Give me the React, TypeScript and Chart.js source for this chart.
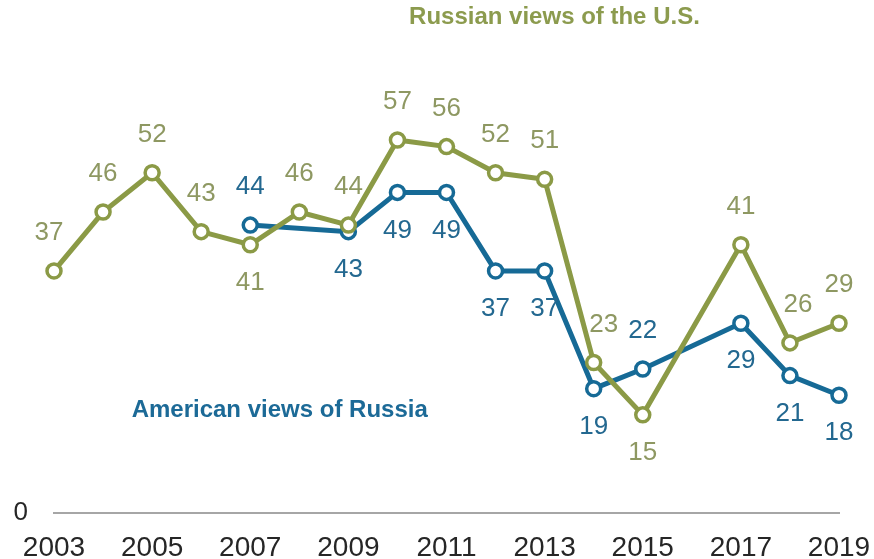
import React, { useEffect, useRef } from "react";
import { Chart, registerables } from "chart.js";

Chart.register(...registerables);

const years = [2003, 2004, 2005, 2006, 2007, 2008, 2009, 2010, 2011, 2012, 2013, 2014, 2015, 2016, 2017, 2018, 2019];
const russianViews = [37, 46, 52, 43, 41, 46, 44, 57, 56, 52, 51, 23, 15, null, 41, 26, 29];
const americanViews = [null, null, null, null, 44, null, 43, 49, 49, 37, 37, 19, 22, null, 29, 21, 18];
const russianLabelSide = ["up", "up", "up", "up", "down", "up", "up", "up", "up", "up", "up", "up", "down", null, "up", "up", "up"];
const americanLabelSide = [null, null, null, null, "up", null, "down", "down", "down", "down", "down", "down", "up", null, "down", "down", "down"];
const russianLabelShift = [-5, 0, 0, 0, 0, 0, 0, 0, 0, 0, 0, 10, 0, 0, 0, 8, 0];
const americanLabelShift = [0, 0, 0, 0, 0, 0, 0, 0, 0, 0, 0, 0, 0, 0, 0, 0, 0];
const xTickYears = [2003, 2005, 2007, 2009, 2011, 2013, 2015, 2017, 2019];
const russianTitle = "Russian views of the U.S.";
const americanTitle = "American views of Russia";

const OLIVE = "#8b9a46";
const OLIVE_TEXT = "#8e9862";
const OLIVE_TITLE = "#8c9b4e";
const BLUE = "#166a96";
const BLUE_TEXT = "#236890";
const BLUE_TITLE = "#1c6a97";
const FONT = "'Liberation Sans', Arial, sans-serif";

function toPoints(values: (number | null)[]) {
  const pts: { x: number; y: number }[] = [];
  values.forEach((v, i) => {
    if (v !== null) pts.push({ x: years[i], y: v });
  });
  return pts;
}

function sideList(sides: (string | null)[], values: (number | null)[]) {
  return sides.filter((_, i) => values[i] !== null);
}
function shiftList(shifts: number[], values: (number | null)[]) {
  return shifts.filter((_, i) => values[i] !== null);
}

const labelPlugin = {
  id: "valueLabels",
  afterDatasetsDraw(chart: any) {
    const ctx = chart.ctx;
    const xs = chart.scales.x;
    const ys = chart.scales.y;
    const cfgs = [
      { values: russianViews, sides: sideList(russianLabelSide, russianViews), shifts: shiftList(russianLabelShift, russianViews), color: OLIVE_TEXT },
      { values: americanViews, sides: sideList(americanLabelSide, americanViews), shifts: shiftList(americanLabelShift, americanViews), color: BLUE_TEXT },
    ];
    ctx.save();
    ctx.font = `26px ${FONT}`;
    ctx.textAlign = "center";
    ctx.textBaseline = "middle";
    cfgs.forEach((cfg, di) => {
      const meta = chart.getDatasetMeta(di);
      const data = chart.data.datasets[di].data as any[];
      meta.data.forEach((pt: any, i: number) => {
        const side = cfg.sides[i];
        const dy = side === "up" ? -38 : 38;
        ctx.fillStyle = cfg.color;
        ctx.fillText(String(data[i].y), pt.x + cfg.shifts[i], pt.y + dy);
      });
    });
    ctx.font = `bold 24px ${FONT}`;
    ctx.fillStyle = OLIVE_TITLE;
    ctx.fillText(russianTitle, xs.getPixelForValue(2013.2), ys.getPixelForValue(75.7));
    ctx.fillStyle = BLUE_TITLE;
    ctx.fillText(americanTitle, xs.getPixelForValue(2007.6), ys.getPixelForValue(15.7));
    ctx.restore();
  },
};

export default function App() {
  const ref = useRef<HTMLCanvasElement | null>(null);
  useEffect(() => {
    if (!ref.current) return;
    const chart = new Chart(ref.current, {
      type: "line",
      data: {
        datasets: [
          {
            label: russianTitle,
            data: toPoints(russianViews),
            borderColor: OLIVE,
            backgroundColor: "#ffffff",
            borderWidth: 5,
            pointRadius: 7,
            pointBorderWidth: 3.5,
            pointBorderColor: OLIVE,
            pointBackgroundColor: "#ffffff",
            tension: 0,
            clip: false,
          },
          {
            label: americanTitle,
            data: toPoints(americanViews),
            borderColor: BLUE,
            backgroundColor: "#ffffff",
            borderWidth: 5,
            pointRadius: 7,
            pointBorderWidth: 3.5,
            pointBorderColor: BLUE,
            pointBackgroundColor: "#ffffff",
            tension: 0,
            clip: false,
          },
        ],
      },
      options: {
        responsive: false,
        animation: false,
        events: [],
        layout: { padding: { top: 55, right: 0, left: 0, bottom: 0 } },
        plugins: { legend: { display: false }, tooltip: { enabled: false }, title: { display: false } },
        scales: {
          x: {
            type: "linear",
            min: 2003,
            max: 2019,
            grid: { display: false, drawTicks: false },
            border: { display: true, color: "#a6a6a6", width: 2 },
            afterBuildTicks: (scale: any) => {
              scale.ticks = xTickYears.map((v) => ({ value: v }));
            },
            afterFit: (scale: any) => {
              scale.height = 46;
              scale.paddingRight = 35;
              scale.paddingLeft = 0;
            },
            ticks: {
              font: { family: FONT, size: 28 },
              color: "#262626",
              padding: 18,
              maxRotation: 0,
              autoSkip: false,
              callback: (v: any) => String(v),
            },
          },
          y: {
            min: 0,
            max: 70,
            grid: { display: false, drawTicks: false },
            border: { display: false },
            afterBuildTicks: (scale: any) => {
              scale.ticks = [{ value: 0 }];
            },
            afterFit: (scale: any) => {
              scale.width = 54;
            },
            ticks: {
              font: { family: FONT, size: 26 },
              color: "#262626",
              padding: 26,
              callback: (v: any) => String(v),
            },
          },
        },
      },
      plugins: [labelPlugin],
    } as any);
    return () => chart.destroy();
  }, []);
  return (
    <div style={{ position: "fixed", left: 0, top: 0, width: 874, height: 559, background: "#fff" }}>
      <canvas ref={ref} width={874} height={559} />
    </div>
  );
}
